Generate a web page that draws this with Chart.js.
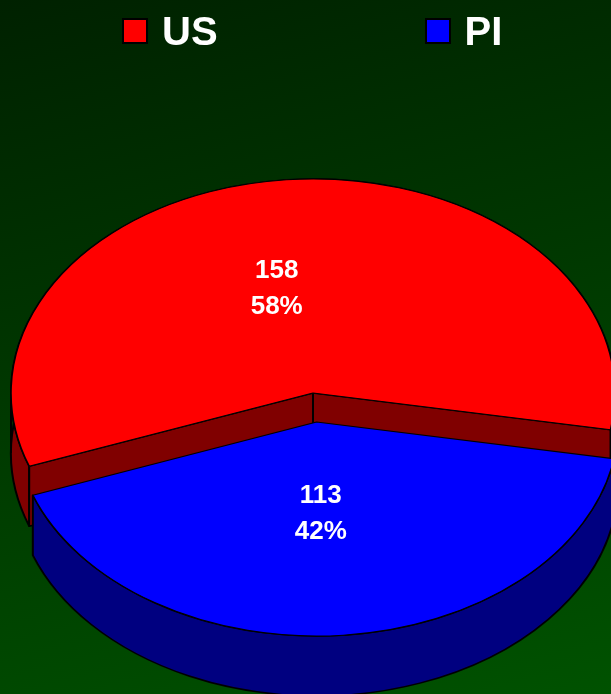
<!DOCTYPE html>
<html>
<head>
<meta charset="utf-8">
<title>US / PI</title>
<script src="https://cdn.jsdelivr.net/npm/chart.js@4.4.1/dist/chart.umd.min.js"></script>
<style>
  html, body { margin: 0; padding: 0; }
  body { width: 611px; height: 694px; overflow: hidden; font-family: "Liberation Sans", Arial, sans-serif; }
  #wrap { position: relative; width: 611px; height: 694px; background: linear-gradient(165deg, #002100 0%, #005200 100%); }
  #legend { position: absolute; left: 122px; top: 11px; display: flex; gap: 207px; z-index: 2; }
  .item { display: flex; align-items: center; }
  .swatch { width: 26px; height: 26px; box-sizing: border-box; border: 2px solid #000; margin-right: 14px; }
  .text { color: #fff; font-weight: bold; font-size: 40px; line-height: 40px; }
  canvas { position: absolute; left: 0; top: 0; }
</style>
</head>
<body>
<div id="wrap">
  <div id="legend"></div>
  <canvas id="pieChart" width="611" height="694"></canvas>
</div>
<script>
// --- data ---
const labels = ['US', 'PI'];
const counts = [158, 113];
const topColors = ['#FF0000', '#0000FF'];
const sideColors = ['#800000', '#000080'];

// --- 3d look ---
const TILT = 0.709;       // vertical squash of the pie
const DEPTH = 60;         // wall height in px
const EXPLODE = [0, 41];  // slice pull-out, in pie plane px
const LABEL_R = [0.5, 0.42];   // label distance as fraction of radius
const LABEL_NUDGE = [-23, -7]; // small sideways shift of labels, px

// legend (html so spacing can match)
const legendEl = document.getElementById('legend');
labels.forEach((name, i) => {
    const item = document.createElement('div');
    item.className = 'item';
    item.innerHTML = `<span class="swatch" style="background:${topColors[i]}"></span><span class="text">${name}</span>`;
    legendEl.appendChild(item);
});

function angleIn(a, s, e) {
    while (a < s) a += Math.PI * 2;
    return a <= e;
}

const pie3d = {
    id: 'pie3d',
    beforeDatasetsDraw(chart) {
        const ctx = chart.ctx;
        const arcs = chart.getDatasetMeta(0).data;
        const cy = arcs[0].y;
        const d = DEPTH / TILT;

        // put ctx into the tilted plane of slice i
        function toPlane(i) {
            const a = arcs[i];
            const mid = (a.startAngle + a.endAngle) / 2;
            ctx.translate(0, cy);
            ctx.scale(1, TILT);
            ctx.translate(0, -cy);
            ctx.translate(Math.cos(mid) * EXPLODE[i], Math.sin(mid) * EXPLODE[i]);
        }

        // walls first
        arcs.forEach((a, i) => {
            const { x, y, startAngle: s, endAngle: e, outerRadius: r } = a;
            ctx.save();
            toPlane(i);
            ctx.fillStyle = sideColors[i];
            ctx.strokeStyle = '#000';
            ctx.lineWidth = 2;
            ctx.lineJoin = 'round';

            // outer rim band
            ctx.beginPath();
            ctx.arc(x, y, r, s, e);
            ctx.lineTo(x + Math.cos(e) * r, y + Math.sin(e) * r + d);
            ctx.arc(x, y + d, r, e, s, true);
            ctx.closePath();
            ctx.fill();
            ctx.stroke();

            // silhouette edges at the far left / right
            [0, Math.PI].forEach(ang => {
                if (angleIn(ang, s, e)) {
                    ctx.beginPath();
                    ctx.moveTo(x + Math.cos(ang) * r, y);
                    ctx.lineTo(x + Math.cos(ang) * r, y + d);
                    ctx.stroke();
                }
            });

            // cut faces that turn towards the viewer
            [[s, s - Math.PI / 2], [e, e + Math.PI / 2]].forEach(([ang, facing]) => {
                if (Math.sin(facing) <= 0) return;
                ctx.beginPath();
                ctx.moveTo(x, y);
                ctx.lineTo(x + Math.cos(ang) * r, y + Math.sin(ang) * r);
                ctx.lineTo(x + Math.cos(ang) * r, y + Math.sin(ang) * r + d);
                ctx.lineTo(x, y + d);
                ctx.closePath();
                ctx.fill();
                ctx.stroke();
            });
            ctx.restore();
        });

        // top faces, drawn by the arc elements themselves
        arcs.forEach((a, i) => {
            ctx.save();
            toPlane(i);
            a.draw(ctx);
            ctx.restore();
        });

        // value + percent labels
        const total = counts.reduce((sum, v) => sum + v, 0);
        ctx.save();
        ctx.font = 'bold 26px "Liberation Sans", Arial, sans-serif';
        ctx.fillStyle = '#fff';
        ctx.textAlign = 'center';
        ctx.textBaseline = 'alphabetic';
        arcs.forEach((a, i) => {
            const mid = (a.startAngle + a.endAngle) / 2;
            const dist = EXPLODE[i] + a.outerRadius * LABEL_R[i];
            const lx = a.x + Math.cos(mid) * dist + LABEL_NUDGE[i];
            const ly = cy + Math.sin(mid) * dist * TILT;
            ctx.fillText(String(counts[i]), lx, ly - 8.5);
            ctx.fillText(Math.round(counts[i] / total * 100) + '%', lx, ly + 27.5);
        });
        ctx.restore();

        return false; // skip default dataset drawing
    }
};

new Chart(document.getElementById('pieChart'), {
    type: 'pie',
    data: {
        labels: labels,
        datasets: [{
            data: counts,
            backgroundColor: topColors,
            borderColor: '#000',
            borderWidth: 1.6
        }]
    },
    options: {
        responsive: false,
        animation: false,
        events: [],
        rotation: 250,
        radius: 302,
        layout: { padding: { left: 15, right: 0, top: 92, bottom: 0 } },
        plugins: { legend: { display: false }, tooltip: { enabled: false } }
    },
    plugins: [pie3d]
});
</script>
</body>
</html>
